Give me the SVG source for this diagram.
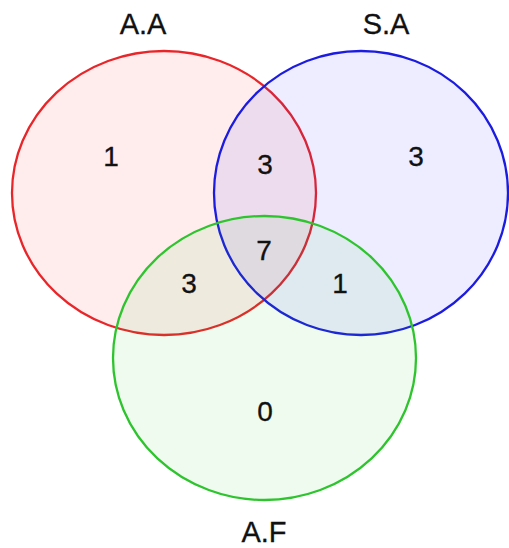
<svg xmlns="http://www.w3.org/2000/svg" width="509" height="548" viewBox="0 0 509 548">
  <style>
    .set { stroke-width: 2.3; }
    .lbl { font-family: "Liberation Sans", Arial, sans-serif; font-size: 29px; fill: #111111; text-anchor: middle; stroke: #111111; stroke-width: 0.3; }
    .num { font-family: "Liberation Sans", Arial, sans-serif; font-size: 28px; fill: #111111; text-anchor: middle; stroke: #111111; stroke-width: 0.3; }
  </style>
  <rect width="509" height="548" fill="#ffffff"/>

  <!-- three-set Venn: translucent fills so overlaps blend -->
  <g id="set-AA">
    <ellipse class="set" cx="164" cy="193" rx="152" ry="142" fill="#ff1a1a" fill-opacity="0.08" stroke="#e8262a"/>
    <text class="lbl" x="143" y="34">A.A</text>
  </g>
  <g id="set-SA">
    <ellipse class="set" cx="361" cy="193" rx="147" ry="142" fill="#1a1aff" fill-opacity="0.08" stroke="#1c1ce0"/>
    <text class="lbl" x="386" y="34">S.A</text>
  </g>
  <g id="set-AF">
    <ellipse class="set" cx="264.5" cy="358" rx="151.5" ry="142" fill="#22cc22" fill-opacity="0.07" stroke="#2ec42e"/>
    <text class="lbl" x="264" y="542">A.F</text>
  </g>

  <!-- region counts -->
  <g id="counts">
    <text class="num" x="111" y="166">1</text>
    <text class="num" x="416" y="166">3</text>
    <text class="num" x="265" y="174">3</text>
    <text class="num" x="264" y="260">7</text>
    <text class="num" x="189" y="293">3</text>
    <text class="num" x="340" y="293">1</text>
    <text class="num" x="265" y="421">0</text>
  </g>
</svg>
